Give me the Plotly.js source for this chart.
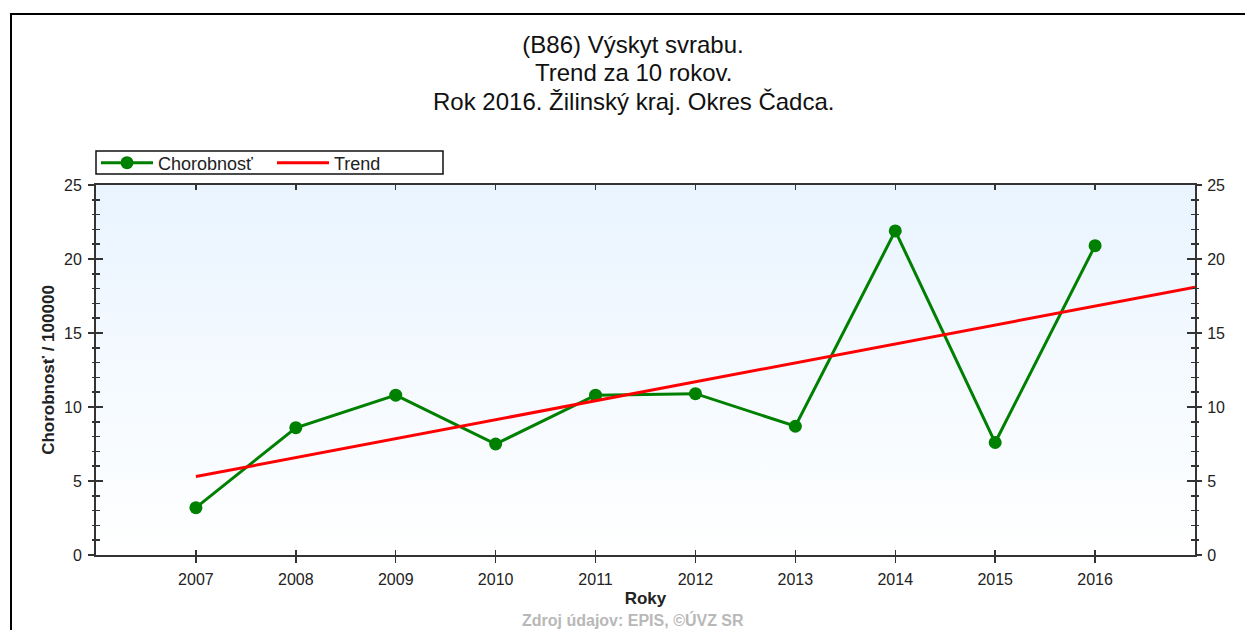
<!DOCTYPE html>
<html><head><meta charset="utf-8">
<script src="https://cdn.plot.ly/plotly-3.0.1.min.js"></script>
<style>html,body{margin:0;padding:0;background:#fff;overflow:hidden}#chart{width:1245px;height:630px}</style>
</head><body><div id="chart"></div>
<script>
const years = [2007, 2008, 2009, 2010, 2011, 2012, 2013, 2014, 2015, 2016];
const chorobnost = [3.2, 8.6, 10.8, 7.5, 10.8, 10.9, 8.7, 21.9, 7.6, 20.9];
const trendYears = [2007, 2017];
const trendValues = [5.3, 18.1];
const seriesNames = ['Chorobnosť', 'Trend'];
const titleLines = ['(B86) Výskyt svrabu.', 'Trend za 10 rokov.', 'Rok 2016. Žilinský kraj. Okres Čadca.'];
const xTitle = 'Roky';
const yTitle = 'Chorobnosť / 100000';
const footer = 'Zdroj údajov: EPIS, ©ÚVZ SR';

const FONT = 'Liberation Sans, Arial, sans-serif';
const AX = '#333333';

const bgSvg = "<svg xmlns='http://www.w3.org/2000/svg' width='10' height='100' preserveAspectRatio='none'><defs><linearGradient id='g' x1='0' y1='0' x2='0' y2='1'><stop offset='0' stop-color='#e9f4ff'/><stop offset='1' stop-color='#ffffff'/></linearGradient></defs><rect width='10' height='100' fill='url(#g)'/></svg>";

const traces = [
  {x: years, y: chorobnost, name: seriesNames[0], type: 'scatter', mode: 'lines+markers',
   line: {color: '#008000', width: 3}, marker: {color: '#008000', size: 13}, hoverinfo: 'x+y'},
  {x: trendYears, y: trendValues, name: seriesNames[1], type: 'scatter', mode: 'lines',
   line: {color: '#ff0000', width: 3}, hoverinfo: 'skip'},
  {x: years, y: chorobnost, xaxis: 'x', yaxis: 'y2', mode: 'markers', marker: {opacity: 0}, showlegend: false, hoverinfo: 'skip'},
  {x: years, y: chorobnost, xaxis: 'x2', yaxis: 'y3', mode: 'markers', marker: {opacity: 0}, showlegend: false, hoverinfo: 'skip'},
  {x: years, y: chorobnost, xaxis: 'x2', yaxis: 'y4', mode: 'markers', marker: {opacity: 0}, showlegend: false, hoverinfo: 'skip'}
];

const tickFont = {family: FONT, size: 16, color: '#222'};
const yBase = {range: [0, 25], dtick: 5, tick0: 0, fixedrange: true, showgrid: false, zeroline: false};
const titleFont = {family: FONT, size: 24, color: '#111'};

const layout = {
  width: 1245, height: 630,
  margin: {l: 96, r: 50, t: 185, b: 75, pad: 0},
  paper_bgcolor: '#ffffff',
  plot_bgcolor: 'rgba(0,0,0,0)',
  showlegend: true,
  title: {text: titleLines[0], font: titleFont,
          xref: 'container', x: 633 / 1245, xanchor: 'center', yref: 'container', y: 1 - 45 / 630, yanchor: 'middle'},
  xaxis: {range: [2006, 2017], tickvals: years, ticktext: years.map(String), ticks: 'outside', ticklen: 6, tickwidth: 1.5, tickcolor: AX,
          showline: true, linecolor: AX, linewidth: 2, mirror: true, showgrid: false, zeroline: false, fixedrange: true,
          tickfont: tickFont, ticklabelstandoff: 3,
          title: {text: xTitle, font: {family: FONT, size: 17, color: '#222', weight: 'bold'}, standoff: 5}},
  xaxis2: {range: [2006, 2017], overlaying: 'x', anchor: 'y3', tickvals: years, showticklabels: false, ticks: 'inside', ticklen: 5,
           tickwidth: 1.5, tickcolor: AX, mirror: 'ticks', showline: false, showgrid: false, zeroline: false, fixedrange: true},
  yaxis: Object.assign({}, yBase, {side: 'left', ticks: 'outside', ticklen: 6, tickwidth: 1.5, tickcolor: AX,
          minor: {dtick: 1, ticks: 'outside', ticklen: 2, tickwidth: 1.5, tickcolor: AX, showgrid: false},
          showline: true, linecolor: AX, linewidth: 2, tickfont: tickFont, ticklabelstandoff: 3,
          title: {text: yTitle, font: {family: FONT, size: 17, color: '#222', weight: 'bold'}, standoff: 5}}),
  yaxis2: Object.assign({}, yBase, {overlaying: 'y', side: 'right', anchor: 'x', ticks: 'outside', ticklen: 5, tickwidth: 1.5, tickcolor: AX,
          minor: {dtick: 1, ticks: 'outside', ticklen: 2, tickwidth: 1.5, tickcolor: AX, showgrid: false},
          showline: true, linecolor: AX, linewidth: 2, tickfont: tickFont, ticklabelstandoff: 2}),
  yaxis3: Object.assign({}, yBase, {overlaying: 'y', side: 'left', anchor: 'x2', ticks: 'inside', ticklen: 7, tickwidth: 1.5, tickcolor: AX,
          minor: {dtick: 1, ticks: 'inside', ticklen: 4, tickwidth: 1.5, tickcolor: AX, showgrid: false},
          showticklabels: false, showline: false}),
  yaxis4: Object.assign({}, yBase, {overlaying: 'y', side: 'right', anchor: 'x2', ticks: 'inside', ticklen: 8, tickwidth: 1.5, tickcolor: AX,
          minor: {dtick: 1, ticks: 'inside', ticklen: 4, tickwidth: 1.5, tickcolor: AX, showgrid: false},
          showticklabels: false, showline: false}),
  legend: {orientation: 'h', x: 0, xanchor: 'left', y: (555 - 163) / 370, yanchor: 'middle',
           borderwidth: 0, bgcolor: 'rgba(0,0,0,0)',
           font: {family: FONT, size: 18, color: '#222'}, itemwidth: 52, tracegroupgap: 0,
           entrywidth: 109, entrywidthmode: 'pixels'},
  images: [{source: 'data:image/svg+xml;charset=utf-8,' + encodeURIComponent(bgSvg), xref: 'paper', yref: 'paper',
            x: 0, y: 1, sizex: 1, sizey: 1, xanchor: 'left', yanchor: 'top', sizing: 'stretch', layer: 'below'}],
  annotations: [
    {text: titleLines[1], xref: 'paper', yref: 'paper', x: (633 - 96) / 1099, y: (555 - 72) / 370, xanchor: 'center', yanchor: 'middle',
     showarrow: false, font: titleFont},
    {text: titleLines[2], xref: 'paper', yref: 'paper', x: (633 - 96) / 1099, y: (555 - 101) / 370, xanchor: 'center', yanchor: 'middle',
     showarrow: false, font: titleFont},
    {text: footer, xref: 'paper', yref: 'paper', x: (633 - 96) / 1099, y: (555 - 620) / 370, xanchor: 'center', yanchor: 'middle',
     showarrow: false, font: {family: FONT, size: 16, color: '#b8b8b8', weight: 'bold'}}
  ],
  shapes: [
    {type: 'rect', xref: 'paper', yref: 'paper', layer: 'below',
     x0: 0, x1: (443 - 96) / 1099, y0: (555 - 174) / 370, y1: (555 - 151) / 370,
     line: {color: '#111', width: 1.5}, fillcolor: '#ffffff'},
    {type: 'path', xref: 'paper', yref: 'paper', layer: 'above',
     path: 'M ' + ((11 - 96) / 1099) + ' ' + ((555 - 700) / 370) + ' L ' + ((11 - 96) / 1099) + ' ' + ((555 - 14) / 370) + ' L ' + ((1300 - 96) / 1099) + ' ' + ((555 - 14) / 370),
     line: {color: '#000', width: 2}}
  ]
};

Plotly.newPlot('chart', traces, layout, {displayModeBar: false, staticPlot: true});
</script>
</body></html>
